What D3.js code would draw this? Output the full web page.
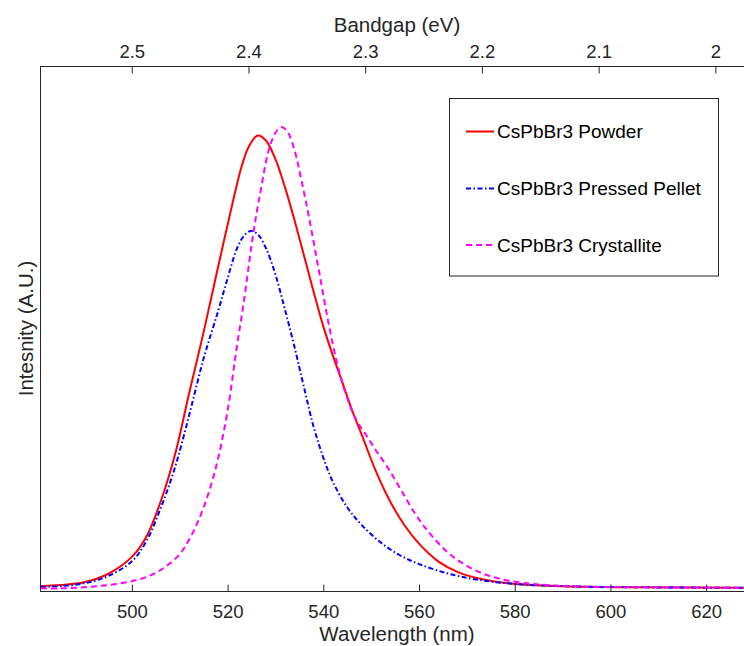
<!DOCTYPE html>
<html>
<head>
<meta charset="utf-8">
<script src="https://cdn.jsdelivr.net/npm/d3@7"></script>
<style>
  body { margin: 0; background: #fff; }
  svg { display: block; font-family: "Liberation Sans", Arial, sans-serif; }
</style>
</head>
<body>
<svg id="chart" width="744" height="646"></svg>
<script>
// photoluminescence spectra, values
var powderWl  = [481, 485, 490, 495, 500, 503, 506, 509, 512, 515, 518, 521, 523, 524.5, 526.3, 528, 530, 532, 534, 536, 538, 540, 542, 544, 546, 548, 551, 554, 557, 560, 564, 568, 573, 580, 590, 605, 630];
var powderInt = [0.007, 0.009, 0.014, 0.029, 0.060, 0.096, 0.160, 0.245, 0.358, 0.468, 0.585, 0.700, 0.770, 0.805, 0.824, 0.815, 0.781, 0.730, 0.670, 0.605, 0.540, 0.478, 0.425, 0.376, 0.326, 0.282, 0.215, 0.160, 0.117, 0.084, 0.052, 0.033, 0.020, 0.011, 0.007, 0.005, 0.004];

var pelletWl  = [481, 485, 490, 495, 500, 503, 506, 509, 512, 515, 518, 520, 522, 523.5, 524.9, 526.3, 528, 530, 532, 534, 536, 538, 540, 542, 545, 548, 552, 556, 560, 566, 572, 580, 590, 605, 630];
var pelletInt = [0.006, 0.007, 0.012, 0.025, 0.052, 0.088, 0.148, 0.222, 0.318, 0.420, 0.505, 0.565, 0.620, 0.643, 0.651, 0.645, 0.620, 0.572, 0.508, 0.440, 0.366, 0.295, 0.240, 0.196, 0.150, 0.118, 0.086, 0.063, 0.047, 0.030, 0.019, 0.011, 0.007, 0.005, 0.004];

var crystWl  = [481, 485, 490, 495, 500, 504, 507, 510, 512, 514, 516, 518, 520, 522, 523, 524, 525, 526, 527, 528.5, 529.5, 530.5, 531.5, 532.7, 534, 535.5, 537, 539, 541, 543, 545, 547, 549, 551, 553, 555, 557, 559, 561, 563, 566, 569, 573, 578, 585, 595, 610, 630];
var crystInt = [0.003, 0.003, 0.005, 0.009, 0.016, 0.027, 0.042, 0.065, 0.092, 0.128, 0.175, 0.238, 0.325, 0.445, 0.500, 0.560, 0.625, 0.680, 0.728, 0.795, 0.820, 0.835, 0.839, 0.828, 0.797, 0.740, 0.676, 0.583, 0.488, 0.407, 0.348, 0.307, 0.280, 0.253, 0.228, 0.200, 0.170, 0.141, 0.116, 0.095, 0.068, 0.049, 0.031, 0.018, 0.010, 0.006, 0.005, 0.004];

var seriesNames  = ["CsPbBr3 Powder", "CsPbBr3 Pressed Pellet", "CsPbBr3 Crystallite"];
var seriesColors = ["#ff0000", "#0000ff", "#ff00ff"];
var seriesDash   = [null, "5,2.5,1.5,2.5", "6,4"];

var wlTicks = [500, 520, 540, 560, 580, 600, 620];
var evTicks = [2.5, 2.4, 2.3, 2.2, 2.1, 2];

var wlLimits = [480.8, 630];
var evLimits = [2.5786, 1.9669];
var intLimits = [0, 0.95];

var svg = d3.select("#chart");
var plotLeft = 40, plotRight = 754, plotTop = 66, plotBottom = 591;
var axisColor = "#262626";

var x = d3.scaleLinear().domain(wlLimits).range([plotLeft, plotRight]);
var xTop = d3.scaleLinear().domain(evLimits).range([plotLeft, plotRight]);
var y = d3.scaleLinear().domain(intLimits).range([590, plotTop]);

svg.append("defs").append("clipPath").attr("id", "plotclip")
  .append("rect").attr("x", plotLeft).attr("y", plotTop)
  .attr("width", plotRight - plotLeft).attr("height", plotBottom - plotTop);

// frame
svg.append("rect")
  .attr("x", plotLeft + 0.5).attr("y", plotTop + 0.5)
  .attr("width", plotRight - plotLeft).attr("height", plotBottom - plotTop)
  .attr("fill", "none").attr("stroke", axisColor).attr("stroke-width", 1);

// bottom axis
var gBot = svg.append("g").attr("transform", "translate(0," + (plotBottom + 0.5) + ")");
gBot.call(d3.axisBottom(x).tickValues(wlTicks).tickSizeInner(-7).tickSizeOuter(0).tickPadding(0));
gBot.select(".domain").remove();
gBot.selectAll(".tick line").attr("stroke", axisColor);
gBot.selectAll(".tick text").attr("fill", axisColor).attr("font-size", "18.5px")
  .attr("font-family", "Liberation Sans, Arial, sans-serif")
  .attr("dy", null).attr("y", 26);

// top axis
var gTop = svg.append("g").attr("transform", "translate(0," + (plotTop + 0.5) + ")");
gTop.call(d3.axisTop(xTop).tickValues(evTicks).tickFormat(d3.format("~g")).tickSizeInner(-7).tickSizeOuter(0).tickPadding(0));
gTop.select(".domain").remove();
gTop.selectAll(".tick line").attr("stroke", axisColor);
gTop.selectAll(".tick text").attr("fill", axisColor).attr("font-size", "18.5px")
  .attr("font-family", "Liberation Sans, Arial, sans-serif")
  .attr("dy", null).attr("y", -9);

// axis titles
svg.append("text").attr("x", (plotLeft + plotRight) / 2).attr("y", 641)
  .attr("text-anchor", "middle").attr("font-size", "20.5px").attr("fill", axisColor)
  .text("Wavelength (nm)");
svg.append("text").attr("x", (plotLeft + plotRight) / 2).attr("y", 32)
  .attr("text-anchor", "middle").attr("font-size", "20.5px").attr("fill", axisColor)
  .text("Bandgap (eV)");
svg.append("text")
  .attr("transform", "translate(33," + ((plotTop + plotBottom) / 2) + ") rotate(-90)")
  .attr("text-anchor", "middle").attr("font-size", "20.5px").attr("fill", axisColor)
  .text("Intesnity (A.U.)");

// curves
var seriesData = [
  powderWl.map(function(w, i) { return [w, powderInt[i]]; }),
  pelletWl.map(function(w, i) { return [w, pelletInt[i]]; }),
  crystWl.map(function(w, i) { return [w, crystInt[i]]; })
];

var line = d3.line()
  .x(function(d) { return x(d[0]); })
  .y(function(d) { return y(d[1]); })
  .curve(d3.curveCatmullRom.alpha(0.5));

var plot = svg.append("g").attr("clip-path", "url(#plotclip)");
// draw order: powder, pellet, crystallite
seriesData.forEach(function(data, i) {
  plot.append("path")
    .datum(data)
    .attr("d", line)
    .attr("fill", "none")
    .attr("stroke", seriesColors[i])
    .attr("stroke-width", 2)
    .attr("stroke-dasharray", seriesDash[i]);
});

// legend
var lg = svg.append("g");
lg.append("rect").attr("x", 449.5).attr("y", 98.5).attr("width", 269).attr("height", 177.5)
  .attr("fill", "#fff").attr("stroke", axisColor).attr("stroke-width", 1);
var rowY = [131.5, 188.5, 245];
seriesNames.forEach(function(name, i) {
  lg.append("line").attr("x1", 466).attr("x2", 494).attr("y1", rowY[i]).attr("y2", rowY[i])
    .attr("stroke", seriesColors[i]).attr("stroke-width", 2)
    .attr("stroke-dasharray", seriesDash[i]);
  lg.append("text").attr("x", 497).attr("y", rowY[i] + 6.5)
    .attr("font-size", "19px").attr("fill", "#000")
    .text(name);
});
</script>
</body>
</html>
